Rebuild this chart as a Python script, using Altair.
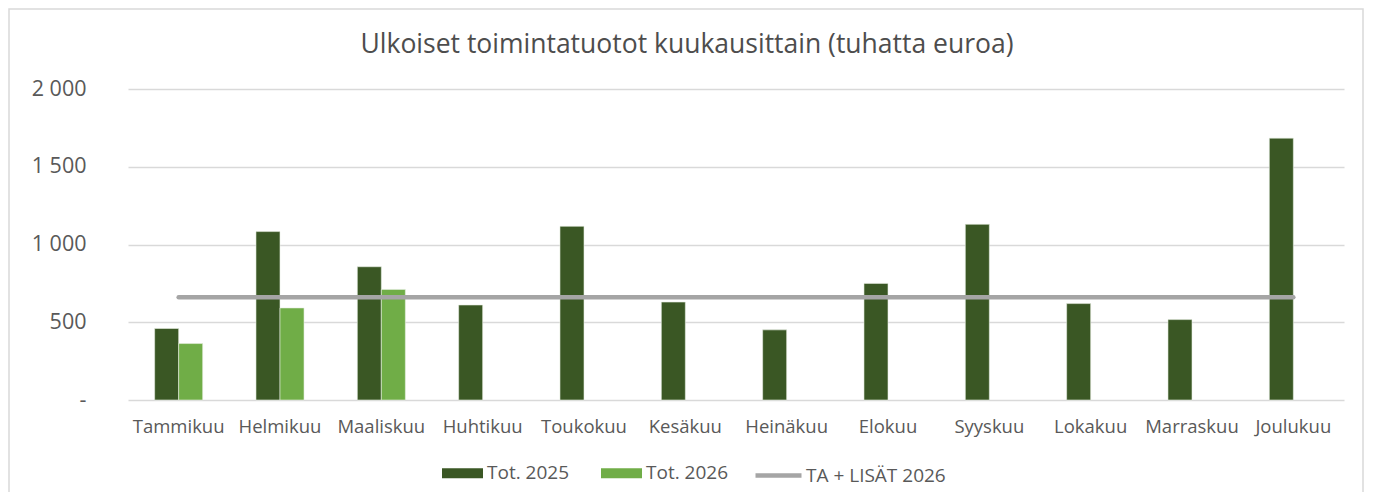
import altair as alt
import pandas as pd

months = ["Tammikuu", "Helmikuu", "Maaliskuu", "Huhtikuu", "Toukokuu", "Kesäkuu",
          "Heinäkuu", "Elokuu", "Syyskuu", "Lokakuu", "Marraskuu", "Joulukuu"]
tot_2025 = [460, 1083, 857, 611, 1117, 630, 451, 750, 1130, 620, 517, 1684]
tot_2026 = [363, 592, 711, None, None, None, None, None, None, None, None, None]
ta_lisat_2026 = [660, 660, 660, 660, 660, 660, 660, 660, 660, 660, 660, 660]

series_names = ["Tot. 2025", "Tot. 2026"]
line_name = "TA + LISÄT 2026"
y_ticks = [0, 500, 1000, 1500, 2000]

rows = []
for m, a, b in zip(months, tot_2025, tot_2026):
    if a is not None:
        rows.append({"month": m, "series": series_names[0], "value": a})
    if b is not None:
        rows.append({"month": m, "series": series_names[1], "value": b})
bars_df = pd.DataFrame(rows)
line_df = pd.DataFrame({"month": months, "name": line_name, "value": ta_lisat_2026})

FONT = "Open Sans"
TXT = "#595959"
W, H = 1216, 311

x_enc = alt.X("month:N", sort=months, title=None,
              scale=alt.Scale(domain=months, paddingInner=0.526, paddingOuter=0.263),
              axis=alt.Axis(labelAngle=0, ticks=False, domain=False, grid=False,
                            labelPadding=17, labelFontSize=18.5, labelColor=TXT,
                            labelFont=FONT))
y_enc = alt.Y("value:Q", title=None,
              scale=alt.Scale(domain=[0, 2000], nice=False),
              axis=alt.Axis(values=y_ticks, ticks=False, domain=False,
                            gridColor="#D9D9D9", gridWidth=1.5,
                            labelPadding=42, labelFontSize=21.5, labelColor=TXT,
                            labelFont=FONT,
                            labelExpr="datum.value == 0 ? '-\u00a0\u00a0' : replace(format(datum.value, ','), ',', ' ')"))

bars = alt.Chart(bars_df).mark_bar(stroke="#E8EFE3", strokeWidth=0.6).encode(
    x=x_enc,
    xOffset=alt.XOffset("series:N", scale=alt.Scale(domain=series_names, paddingInner=0)),
    y=y_enc,
    color=alt.Color("series:N",
                    scale=alt.Scale(domain=series_names, range=["#3A5724", "#70AD47"]),
                    legend=alt.Legend(title=None, orient="none", legendX=314, legendY=363.5,
                                      direction="horizontal",
                                      symbolType="M-1,-0.244H1V0.244H-1Z", symbolSize=1681,
                                      symbolStrokeWidth=0, labelFontSize=19,
                                      labelColor=TXT, labelFont=FONT, labelOffset=4,
                                      columnPadding=31, padding=0)),
)

line = alt.Chart(line_df).mark_line(strokeWidth=4.5, strokeCap="round").encode(
    x=alt.X("month:N", sort=months),
    y=alt.Y("value:Q"),
    stroke=alt.Stroke("name:N",
                      scale=alt.Scale(domain=[line_name], range=["#A5A5A5"]),
                      legend=alt.Legend(title=None, orient="none", legendX=625, legendY=361,
                                        symbolType="stroke", symbolSize=2116,
                                        symbolStrokeWidth=4.5, labelFontSize=19,
                                        labelColor=TXT, labelFont=FONT, labelOffset=2,
                                        padding=0)),
)

frame = alt.Chart(pd.DataFrame({"f": [0]})).mark_rect(
    fill=None, stroke="#D9D9D9", strokeWidth=1.5, clip=False
).encode(x=alt.value(-119), x2=alt.value(1235), y=alt.value(-80), y2=alt.value(430))

chart = alt.layer(frame, bars, line).resolve_scale(color="independent").properties(
    width=W, height=H,
    title=alt.TitleParams("Ulkoiset toimintatuotot kuukausittain (tuhatta euroa)",
                          font=FONT, fontSize=26.5, fontWeight="normal", color="#4D4D4D",
                          anchor="middle", frame="group", dx=-49, offset=30, dy=80),
    autosize=alt.AutoSizeParams(type="none"),
    padding={"left": 120, "top": 81, "right": 21, "bottom": 92},
).configure(background="white").configure_view(stroke=None)

chart.save("out.html", embed_options={"renderer": "svg", "actions": False})
